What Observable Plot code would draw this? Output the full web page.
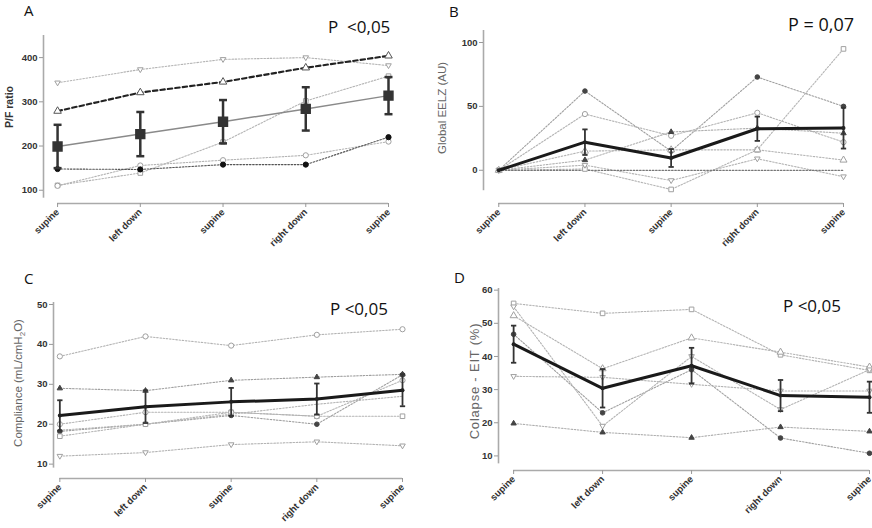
<!DOCTYPE html>
<html><head><meta charset="utf-8">
<script src="https://cdn.jsdelivr.net/npm/d3@7"></script>
<script src="https://cdn.jsdelivr.net/npm/@observablehq/plot@0.6"></script>
<style>
body{margin:0;background:#fff;}
#chart{position:relative;width:872px;height:528px;overflow:hidden;font-family:"Liberation Sans",Arial,sans-serif;}
.panel{position:absolute;width:436px;height:264px;}
.panel svg{overflow:visible;}
.letter{position:absolute;font-family:"Open Sans",sans-serif;font-size:15px;color:#111;line-height:1.2;}
.pval{position:absolute;font-family:"Open Sans",sans-serif;font-size:17px;color:#111;line-height:1;white-space:pre;}
.ylab{position:absolute;transform:translate(-50%,-50%) rotate(-90deg);white-space:nowrap;font-size:11.5px;line-height:1;color:#666;font-family:"Liberation Sans",Arial,sans-serif;}
.ylab sub{font-size:0.7em;}
</style>
</head><body>
<div id="chart">
  <div class="panel" id="pA" style="left:0;top:0"></div>
  <div class="panel" id="pB" style="left:436px;top:0"></div>
  <div class="panel" id="pC" style="left:0;top:264px"></div>
  <div class="panel" id="pD" style="left:436px;top:264px"></div>
  <div class="letter" style="left:24px;top:1px">A</div>
  <div class="letter" style="left:449px;top:2px">B</div>
  <div class="letter" style="left:24px;top:269px">C</div>
  <div class="letter" style="left:454px;top:268px">D</div>
  <div class="pval" style="left:328px;top:18px">P  &lt;0,05</div>
  <div class="pval" style="left:788px;top:15px;font-size:18px">P = 0,07</div>
  <div class="pval" style="left:330px;top:300px">P &lt;0,05</div>
  <div class="pval" style="left:783px;top:297px">P &lt;0,05</div>
  <div class="ylab" style="left:9px;top:107px;font-weight:bold;color:#333;font-size:10.5px">P/F ratio</div>
  <div class="ylab" style="left:443px;top:108px">Global EELZ (AU)</div>
  <div class="ylab" style="left:20px;top:383px">Compliance (mL/cmH<sub>2</sub>O)</div>
  <div class="ylab" style="left:474px;top:381px;font-size:13px;letter-spacing:0.8px">Colapse - EIT (%)</div>
</div>
<script>
// ---------- data ----------
const positions = ["supine", "left down", "supine", "right down", "supine"];
const steps = [0, 1, 2, 3, 4];

// Panel A: P/F ratio
const pfIndividual = [
  [343, 373, 396, 400, 382],
  [279, 321, 345, 377, 404],
  [111, 139, 209, 302, 358],
  [110, 156, 168, 179, 210],
  [148, 147, 158, 158, 220]
];
const pfMean = [199, 227, 255, 284, 314];
const pfSD = [49, 50, 49, 49, 42];
const pfTicks = [100, 200, 300, 400];

// Panel B: Global EELZ (AU)
const eelzIndividual = [
  [0, 62, 15, 73, 50],
  [0, 44, 27, 45, 22],
  [0, 1, -15, 16, 95],
  [0, 8, 30, 33, 29],
  [0, 4, -8, 9, -5],
  [0, 15, 16, 16, 8],
  [0, 0, 0, 0, 0]
];
const eelzMean = [0, 22, 9.6, 32.5, 33];
const eelzSD = [0, 10, 7, 9.5, 16];
const eelzTicks = [0, 50, 100];

// Panel C: Compliance (mL/cmH2O)
const complianceIndividual = [
  [37, 42, 39.7, 42.4, 43.8],
  [29, 28.4, 31, 31.8, 32.5],
  [12, 12.9, 14.9, 15.6, 14.6],
  [18.2, 20, 22.2, 20, 32.4],
  [17, 20, 23, 22, 22],
  [20, 23, 23, 22, 31],
  [18.5, 20, 22.5, 25, 27]
];
const complianceMean = [22.2, 24.4, 25.6, 26.3, 28.5];
const complianceSD = [3.8, 4.1, 3.5, 3.9, 4.0];
const complianceTicks = [10, 20, 30, 40, 50];

// Panel D: Colapse - EIT (%)
const collapseIndividual = [
  [56, 53, 54.2, 40.5, 35.8],
  [52.3, 36.3, 45.6, 41.3, 36.8],
  [19.8, 17.1, 15.5, 18.7, 17.4],
  [34, 33.7, 31.6, 29.6, 29.6],
  [46.7, 23, 36, 15.4, 10.8],
  [55, 19, 40, 24, 36]
];
const collapseMean = [43.7, 30.4, 37.2, 28.2, 27.7];
const collapseSD = [5.6, 5.8, 5.4, 4.7, 4.7];
const collapseTicks = [10, 20, 30, 40, 50, 60];

// ---------- symbols & styles ----------
const downTri = {draw(ctx, size) {
  const h = Math.sqrt(size) * 0.55;
  ctx.moveTo(-h * 1.1, -h * 0.7); ctx.lineTo(h * 1.1, -h * 0.7); ctx.lineTo(0, h * 1.2); ctx.closePath();
}};
const cap = {draw(ctx, size) {
  const w = Math.sqrt(size) / 2;
  ctx.moveTo(-w, 0); ctx.lineTo(w, 0);
}};
const grey = {line: "#b4b4b4", width: 1.1, dash: "1.6,1.6", stroke: "#a0a0a0", fill: "white", r: 2.6};
const dark = {line: "#888", width: 1.1, dash: "1.6,1.6", stroke: "#444", fill: "#444", r: 2.3};

const pfLooks = [
  {...grey, symbol: downTri},
  {line: "#222", width: 2.1, dash: "4.5,3", stroke: "#555", fill: "white", symbol: "triangle", r: 2.8},
  {...grey, symbol: "square"},
  {...grey, symbol: "circle"},
  {...dark, line: "#555", stroke: "#111", fill: "#111", symbol: "circle", r: 2.6}
];
const eelzLooks = [
  {...dark, line: "#a0a0a0", symbol: "circle"},
  {...grey, symbol: "circle"},
  {...grey, symbol: "square"},
  {...dark, line: "#b0b0b0", symbol: "triangle", r: 2},
  {...grey, symbol: downTri},
  {...grey, symbol: "triangle"},
  {line: "#777", width: 1.2, dash: "1.6,1.6", symbol: null}
];
const complianceLooks = [
  {...grey, symbol: "circle"},
  {...dark, line: "#a0a0a0", symbol: "triangle", r: 2},
  {...grey, symbol: downTri},
  {...dark, line: "#a0a0a0", symbol: "circle"},
  {...grey, symbol: "square"},
  {...grey, symbol: "circle"},
  {...grey, symbol: null}
];
const collapseLooks = [
  {...grey, symbol: "square"},
  {...grey, symbol: "triangle"},
  {...dark, line: "#b0b0b0", symbol: "triangle", r: 2},
  {...grey, symbol: downTri},
  {...dark, line: "#a0a0a0", symbol: "circle"},
  {...grey, symbol: downTri}
];

function drawPanel(el, cfg) {
  const {series, looks, mean, sd, yDomain, yAxisFrom, yTicks, xMin, margins, ms} = cfg;
  const marks = [
    Plot.ruleY([yDomain[0]], {x1: 0, x2: 4, stroke: "#aaa", strokeWidth: 1.6}),
    Plot.ruleX([xMin], {y1: yAxisFrom, y2: yDomain[1], stroke: "#aaa", strokeWidth: 1.6}),
    Plot.axisY({ticks: yTicks, tickSize: 4, tickPadding: 2, stroke: "#999", fill: "#333", fontSize: 9.5, fontWeight: "bold", label: null}),
    Plot.axisX({ticks: steps, tickFormat: i => positions[i], tickRotate: -45, tickSize: 4, tickPadding: 3, stroke: "#999", fill: "#333", fontSize: 9.5, fontWeight: "bold", label: null})
  ];
  series.forEach((vals, k) => {
    const lk = looks[k];
    marks.push(Plot.line(vals, {x: (d, i) => i, y: d => d, stroke: lk.line, strokeWidth: lk.width, strokeDasharray: lk.dash}));
  });
  series.forEach((vals, k) => {
    const lk = looks[k];
    if (lk.symbol) marks.push(Plot.dot(vals, {x: (d, i) => i, y: d => d, symbol: lk.symbol, r: lk.r ?? 2.6, fill: lk.fill, stroke: lk.stroke, strokeWidth: 1}));
  });
  const stats = mean.map((m, i) => ({i, m, lo: m - sd[i], hi: m + sd[i]}));
  const bars = stats.filter(d => d.hi > d.lo);
  marks.push(Plot.line(stats, {x: "i", y: "m", stroke: ms.line, strokeWidth: ms.width}));
  marks.push(Plot.ruleX(bars, {x: "i", y1: "lo", y2: "hi", stroke: ms.bar, strokeWidth: ms.barWidth}));
  marks.push(Plot.dot(bars, {x: "i", y: "lo", symbol: cap, r: ms.cap, stroke: ms.bar, strokeWidth: ms.barWidth, fill: "none"}));
  marks.push(Plot.dot(bars, {x: "i", y: "hi", symbol: cap, r: ms.cap, stroke: ms.bar, strokeWidth: ms.barWidth, fill: "none"}));
  if (ms.marker) marks.push(Plot.dot(stats, {x: "i", y: "m", symbol: "square", r: 5, fill: "#333", stroke: "#333"}));
  else marks.push(Plot.dot(stats, {x: "i", y: "m", r: 2, fill: "#222"}));
  const svg = Plot.plot({
    width: 436, height: 264, ...margins,
    x: {type: "linear", domain: [xMin, 4]},
    y: {type: "linear", domain: yDomain},
    style: {background: "transparent", fontFamily: "'Liberation Sans', Arial, sans-serif", overflow: "visible"},
    marks
  });
  el.append(svg);
}

drawPanel(document.getElementById("pA"), {
  series: pfIndividual, looks: pfLooks, mean: pfMean, sd: pfSD,
  yDomain: [70, 450], yAxisFrom: 82, yTicks: pfTicks, xMin: -0.17,
  margins: {marginLeft: 43, marginRight: 48, marginTop: 35, marginBottom: 61},
  ms: {line: "#8a8a8a", width: 1.5, bar: "#333", barWidth: 2.5, cap: 4.5, marker: true}
});
drawPanel(document.getElementById("pB"), {
  series: eelzIndividual, looks: eelzLooks, mean: eelzMean, sd: eelzSD,
  yDomain: [-26, 109.4], yAxisFrom: -16, yTicks: eelzTicks, xMin: -0.177,
  margins: {marginLeft: 47, marginRight: 29, marginTop: 30, marginBottom: 61},
  ms: {line: "#1a1a1a", width: 3, bar: "#333", barWidth: 1.8, cap: 3, marker: false}
});
drawPanel(document.getElementById("pC"), {
  series: complianceIndividual, looks: complianceLooks, mean: complianceMean, sd: complianceSD,
  yDomain: [6.4, 50.5], yAxisFrom: 9, yTicks: complianceTicks, xMin: -0.074,
  margins: {marginLeft: 53, marginRight: 34, marginTop: 38, marginBottom: 50},
  ms: {line: "#1a1a1a", width: 3, bar: "#333", barWidth: 1.8, cap: 3, marker: false}
});
drawPanel(document.getElementById("pD"), {
  series: collapseIndividual, looks: collapseLooks, mean: collapseMean, sd: collapseSD,
  yDomain: [5.6, 60.5], yAxisFrom: 7.6, yTicks: collapseTicks, xMin: -0.17,
  margins: {marginLeft: 62, marginRight: 3, marginTop: 24, marginBottom: 58},
  ms: {line: "#1a1a1a", width: 3, bar: "#333", barWidth: 1.8, cap: 3, marker: false}
});
</script>
</body></html>
